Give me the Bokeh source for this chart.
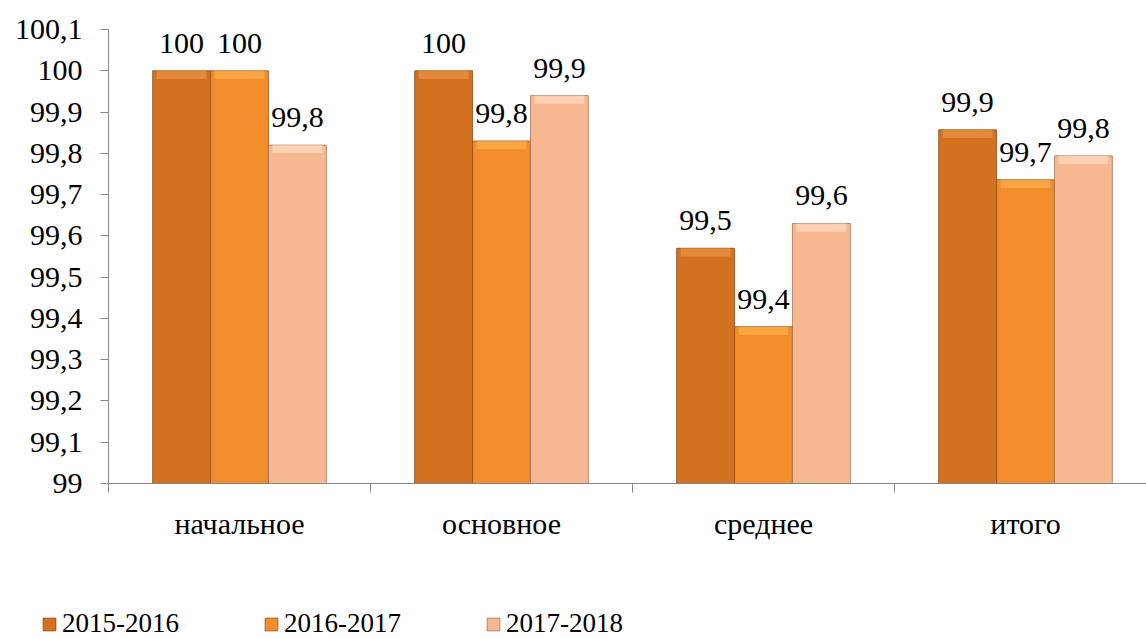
from bokeh.plotting import figure
from bokeh.models import (ColumnDataSource, Range1d, FixedTicker, CustomJSTickFormatter,
                          LabelSet, Legend, LegendItem)
from bokeh.embed import file_html
from bokeh.resources import INLINE

# ---- data ----
categories = ["начальное", "основное", "среднее", "итого"]
series = ["2015-2016", "2016-2017", "2017-2018"]
v2015 = [100.0, 100.0, 99.57, 99.857]
v2016 = [100.0, 99.83, 99.38, 99.736]
v2017 = [99.82, 99.94, 99.63, 99.794]
l2015 = ["100", "100", "99,5", "99,9"]
l2016 = ["100", "99,8", "99,4", "99,7"]
l2017 = ["99,8", "99,9", "99,6", "99,8"]
y_ticks = [99.0, 99.1, 99.2, 99.3, 99.4, 99.5, 99.6, 99.7, 99.8, 99.9, 100.0, 100.1]
y_labels = ["99", "99,1", "99,2", "99,3", "99,4", "99,5", "99,6", "99,7", "99,8", "99,9", "100", "100,1"]

# ---- styles ----
FONT = "'Liberation Serif', 'Times New Roman', serif"
fills = ["#D3711F", "#F38C2B", "#F6B791"]
bevels = ["#EE9A4A", "#FDB550", "#FFE3CC"]
edges = ["#7A3F10", "#8A4A14", "#9A6A50"]
bar_w = 0.221
offsets = [-bar_w, 0.0, bar_w]

p = figure(width=1146, height=599, output_backend="svg", toolbar_location=None,
           x_range=Range1d(0, 1038 / 262.0), y_range=Range1d(99.0, 100.1),
           min_border_left=108, min_border_right=0, min_border_top=29, min_border_bottom=116)
p.outline_line_color = None
p.xgrid.visible = False
p.ygrid.visible = False
p.background_fill_color = "white"

vals = [v2015, v2016, v2017]
labs = [l2015, l2016, l2017]
for k in range(3):
    xs = [i + 0.5 + offsets[k] for i in range(len(categories))]
    src = ColumnDataSource(dict(x=xs, top=vals[k], lab=labs[k],
                                bbot=[v - 0.02 for v in vals[k]]))
    p.vbar(x="x", width=bar_w, top="top", bottom=99.0, source=src,
           fill_color=fills[k], line_color=edges[k], line_alpha=0.7, line_width=1)
    p.vbar(x="x", width=bar_w * 0.86, top="top", bottom="bbot", source=src,
           fill_color=bevels[k], fill_alpha=0.6, line_color=None)
    ls = LabelSet(x="x", y="top", text="lab", source=src, y_offset=18,
                  text_align="center", text_baseline="alphabetic",
                  text_font=FONT, text_font_size="30px", text_color="black")
    p.add_layout(ls)

# y axis
p.yaxis.ticker = FixedTicker(ticks=y_ticks)
p.yaxis.formatter = CustomJSTickFormatter(args=dict(t=y_ticks, l=y_labels), code="""
let best = 0;
for (let i = 0; i < t.length; i++) { if (Math.abs(t[i] - tick) < Math.abs(t[best] - tick)) best = i; }
return l[best];
""")
p.yaxis.axis_line_color = "#868686"
p.yaxis.major_tick_line_color = "#868686"
p.yaxis.major_tick_out = 8
p.yaxis.major_tick_in = 0
p.yaxis.minor_tick_line_color = None
p.yaxis.major_label_standoff = 18
p.yaxis.major_label_text_font = FONT
p.yaxis.major_label_text_font_size = "30px"
p.yaxis.major_label_text_color = "black"

# x axis
centers = [i + 0.5 for i in range(len(categories))]
bounds = [float(i) for i in range(len(categories) + 1)]
p.xaxis.ticker = FixedTicker(ticks=centers, minor_ticks=bounds)
p.xaxis.formatter = CustomJSTickFormatter(args=dict(c=categories), code="""
return c[Math.round(tick - 0.5)];
""")
p.xaxis.axis_line_color = "#868686"
p.xaxis.major_tick_line_color = None
p.xaxis.major_tick_out = 0
p.xaxis.major_tick_in = 0
p.xaxis.minor_tick_line_color = "#868686"
p.xaxis.minor_tick_out = 9
p.xaxis.minor_tick_in = 0
p.xaxis.major_label_standoff = 14
p.xaxis.major_label_text_font = FONT
p.xaxis.major_label_text_font_size = "30px"
p.xaxis.major_label_text_color = "black"

# ---- legend strip below the chart (separate root, full-width frame) ----
lg = figure(width=1146, height=40, output_backend="svg", toolbar_location=None,
            x_range=Range1d(0, 1), y_range=Range1d(0, 1),
            x_axis_location=None, y_axis_location=None,
            min_border_left=0, min_border_right=0, min_border_top=0, min_border_bottom=0)
lg.outline_line_color = None
lg.xgrid.visible = False
lg.ygrid.visible = False
items = []
for k in range(3):
    r = lg.vbar(x=[-10.0], width=0.1, top=[-10.0], bottom=-11.0,
                fill_color=fills[k], line_color=edges[k], line_alpha=0.7, line_width=1)
    items.append(LegendItem(label=series[k], renderers=[r]))
legend = Legend(items=items, orientation="horizontal", location=(41, 0),
                label_text_font=FONT, label_text_font_size="27px", label_text_color="black",
                glyph_width=16, glyph_height=16, label_standoff=5, label_width=201,
                label_height=30, spacing=0, padding=0, margin=0, border_line_color=None,
                background_fill_alpha=0)
lg.add_layout(legend, "center")

open("out.html", "w").write(file_html([p, lg], INLINE))
